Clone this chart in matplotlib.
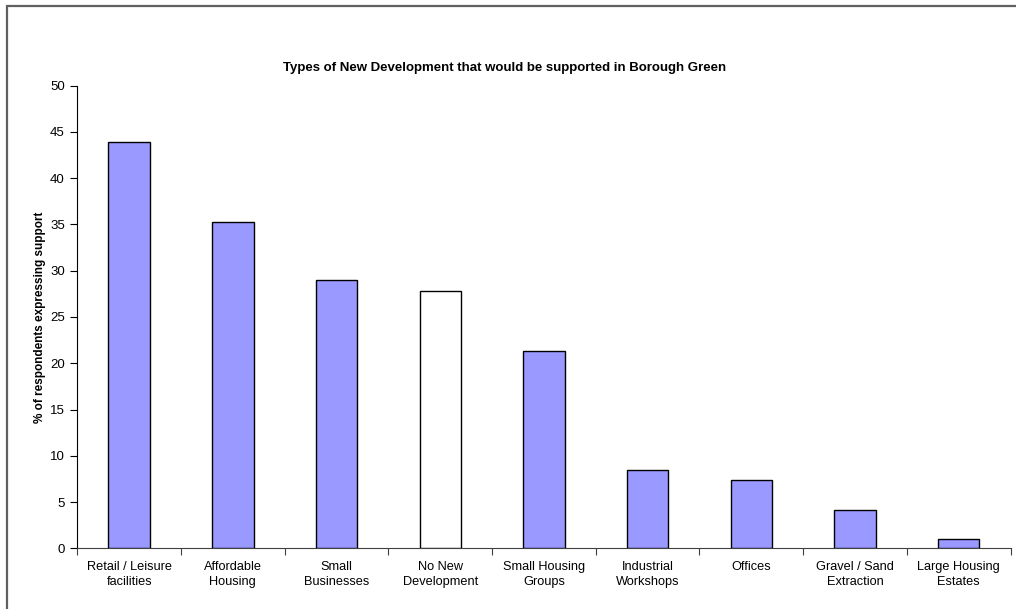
import numpy as np
import matplotlib.pyplot as plt
from matplotlib.patches import Rectangle

plt.rcParams['font.family'] = ['Liberation Sans', 'DejaVu Sans']

categories = ['Retail / Leisure\nfacilities', 'Affordable\nHousing', 'Small\nBusinesses',
              'No New\nDevelopment', 'Small Housing\nGroups', 'Industrial\nWorkshops',
              'Offices', 'Gravel / Sand\nExtraction', 'Large Housing\nEstates']
support = [43.9, 35.3, 29.0, 27.8, 21.3, 8.5, 7.4, 4.1, 1.0]
fills = ['#9999FF', '#9999FF', '#9999FF', '#FFFFFF', '#9999FF',
         '#9999FF', '#9999FF', '#9999FF', '#9999FF']

fig = plt.figure(figsize=(10.16, 6.09), dpi=100)

# outer chart border (runs off right and bottom edges like the original)
fig.patches.append(Rectangle((7 / 1016, -0.05), 1.1, (609 - 6) / 609 + 0.05,
                             transform=fig.transFigure, fill=False,
                             edgecolor='#606060', linewidth=1.6))

ax = fig.add_axes([77.3 / 1016, 60.7 / 609, 933.3 / 1016, 462.6 / 609])
x = np.arange(len(categories))
ax.bar(x, support, width=0.4, color=fills, edgecolor='black', linewidth=1.0, zorder=3)

ax.set_xlim(-0.5, len(categories) - 0.5)
ax.set_ylim(0, 50)
ax.set_yticks(np.arange(0, 51, 5))
ax.set_xticks(np.arange(-0.5, len(categories), 1.0))
ax.set_xticklabels([])
ax.set_xticks(x, minor=True)
ax.set_xticklabels(categories, minor=True, fontsize=9.2, linespacing=1.4)
ax.tick_params(axis='x', which='minor', length=0, pad=9)
ax.tick_params(axis='x', which='major', direction='out', length=5, color='#404040')
ax.tick_params(axis='y', direction='out', length=5, labelsize=9.5, pad=4)

for s in ['top', 'right']:
    ax.spines[s].set_visible(False)
ax.spines['left'].set_color('black')
ax.spines['bottom'].set_color('#404040')

ax.set_ylabel('% of respondents expressing support', fontsize=8.5, fontweight='bold', labelpad=3)
fig.text(505 / 1016, 1 - 68 / 609, 'Types of New Development that would be supported in Borough Green',
         ha='center', va='center', fontsize=9.5, fontweight='bold')

fig.savefig('out.png', dpi=100)
